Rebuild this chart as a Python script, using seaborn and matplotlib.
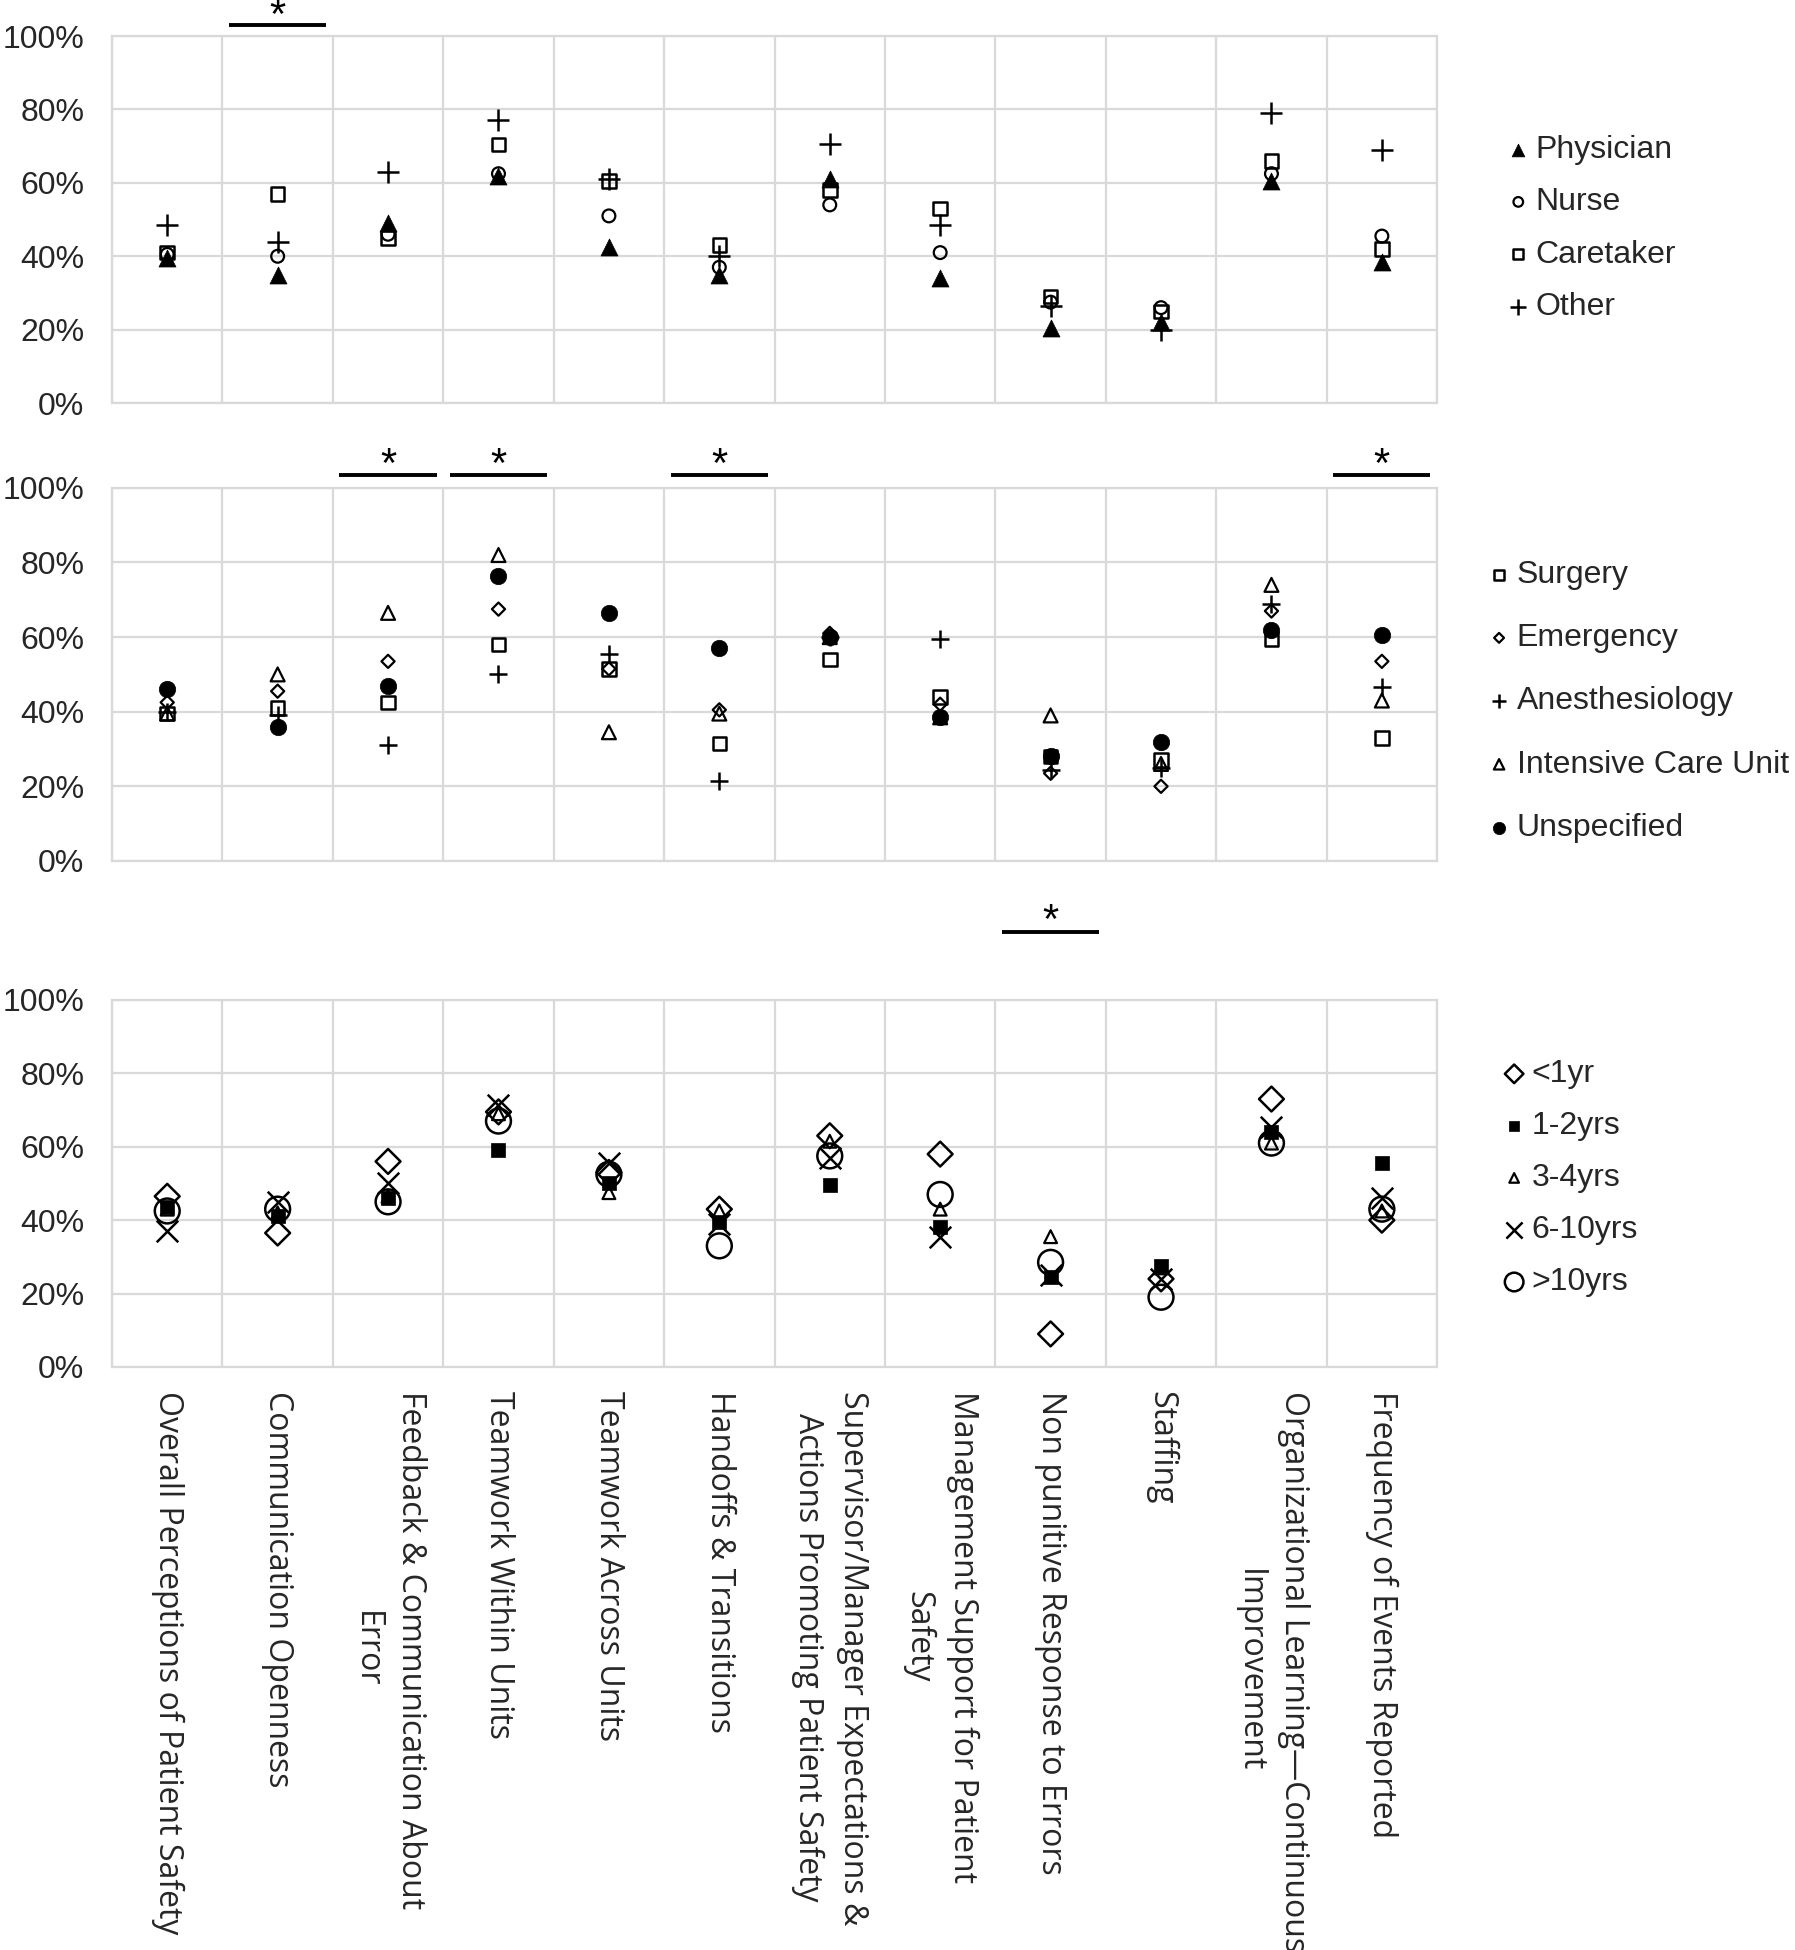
import numpy as np
import pandas as pd
import matplotlib
matplotlib.use('Agg')
import matplotlib.pyplot as plt
import seaborn as sns
from matplotlib.ticker import PercentFormatter

dimensions = ['Overall Perceptions of Patient Safety',
              'Communication Openness',
              'Feedback & Communication About\nError',
              'Teamwork Within Units',
              'Teamwork Across Units',
              'Handoffs & Transitions',
              'Supervisor/Manager Expectations &\nActions Promoting Patient Safety',
              'Management Support for Patient\nSafety',
              'Non punitive Response to Errors',
              'Staffing',
              'Organizational Learning\u2014Continuous\nImprovement',
              'Frequency of Events Reported']

# panel 1: by role
physician = [39.5, 35, 49, 62, 42.5, 35, 61, 34, 20.5, 22, 60.5, 38.5]
nurse = [40.5, 40, 46, 62.5, 51, 37, 54, 41, 27.5, 26, 62.5, 45.5]
caretaker = [41, 57, 45, 70.5, 60.5, 43, 58, 53, 29, 25, 66, 42]
other_role = [48.5, 44, 63, 77, 61, 40, 70.5, 48.5, 26.5, 20, 79, 69]

# panel 2: by department
surgery = [39.5, 41, 42.5, 58, 51.5, 31.5, 54, 44, 28, 27, 59.5, 33]
emergency = [42.5, 45.5, 53.5, 67.5, 51.5, 40.5, 61, 42, 23.5, 20, 67, 53.5]
anesthesiology = [40, 39, 31, 50, 55.5, 21.5, 60, 59.5, 24.5, 25, 69, 46.5]
icu = [39.5, 50, 66.5, 82, 34.5, 39.5, 60, 38.5, 39, 26, 74, 43]
unspecified = [46, 36, 47, 76.5, 66.5, 57, 60, 38.5, 28, 32, 62, 60.5]

# panel 3: by years of experience
lt_1yr = [46.5, 36.5, 56, 69.5, 53, 43, 63, 58, 9, 24, 73, 40]
yrs_1_2 = [43.5, 41, 46, 59, 50, 39.5, 49.5, 38, 24.5, 27.5, 64, 55.5]
yrs_3_4 = [43, 42, 46.5, 69, 47.5, 42.5, 61.5, 43, 35.5, 27, 61, 42.5]
yrs_6_10 = [37, 45, 50, 71.5, 55.5, 39, 57, 35.5, 25, 24, 65.5, 46]
gt_10yrs = [42.5, 43, 45, 67, 52.5, 33, 57.5, 47, 28.5, 19, 61, 43]

# significant differences (index of dimension) per panel
sig1 = [1]
sig2 = [2, 3, 5, 11]
sig3 = [8]

panels = [
    {'Physician': physician, 'Nurse': nurse, 'Caretaker': caretaker, 'Other': other_role},
    {'Surgery': surgery, 'Emergency': emergency, 'Anesthesiology': anesthesiology,
     'Intensive Care Unit': icu, 'Unspecified': unspecified},
    {'<1yr': lt_1yr, '1-2yrs': yrs_1_2, '3-4yrs': yrs_3_4, '6-10yrs': yrs_6_10, '>10yrs': gt_10yrs},
]

# marker style: (marker, size, filled, linewidth)
styles = [
    {'Physician': ('^', 150, True, 0), 'Nurse': ('o', 85, False, 1.6),
     'Caretaker': ('s', 95, False, 1.8), 'Other': ('+', 230, False, 1.8)},
    {'Surgery': ('s', 95, False, 1.8), 'Emergency': ('D', 45, False, 1.6),
     'Anesthesiology': ('+', 180, False, 1.8), 'Intensive Care Unit': ('^', 100, False, 1.6),
     'Unspecified': ('o', 140, True, 0)},
    {'<1yr': ('D', 160, False, 1.8), '1-2yrs': ('s', 100, True, 0),
     '3-4yrs': ('^', 85, False, 1.6), '6-10yrs': ('x', 240, False, 1.8),
     '>10yrs': ('o', 320, False, 1.8)},
]
sigs = [sig1, sig2, sig3]
bar_y = [103, 103.5, 118.5]
star_y = [102.2, 103.0, 118.2]

sns.set_theme(style='white')
plt.rcParams['font.family'] = ['Liberation Sans', 'DejaVu Sans']

fig = plt.figure(figsize=(17.95, 19.5), dpi=100)
boxes = [[0.0624, 0.7933, 0.7382, 0.1882],
         [0.0624, 0.5585, 0.7382, 0.1913],
         [0.0624, 0.2990, 0.7382, 0.1882]]
leg_pos = [(0.8316, 0.939), (0.8209, 0.721), (0.8293, 0.465)]
leg_spacing = [0.70, 1.04, 0.69]
grid_col = '#d9d9d9'

for i in range(3):
    ax = fig.add_axes(boxes[i])
    rows = []
    for grp, vals in panels[i].items():
        for d, v in zip(dimensions, vals):
            rows.append({'dimension': d, 'group': grp, 'pct': v})
    df = pd.DataFrame(rows)

    for grp in panels[i]:
        m, s, filled, lw = styles[i][grp]
        sub = df[df['group'] == grp]
        if m in ['+', 'x']:
            sns.scatterplot(data=sub, x='dimension', y='pct', marker=m, s=s,
                            color='black', linewidth=lw, ax=ax, label=grp, zorder=3)
        elif filled:
            sns.scatterplot(data=sub, x='dimension', y='pct', marker=m, s=s,
                            color='black', edgecolor='black', linewidth=0.5, ax=ax,
                            label=grp, zorder=3)
        else:
            sns.scatterplot(data=sub, x='dimension', y='pct', marker=m, s=s,
                            facecolor='none', edgecolor='black', linewidth=lw, ax=ax,
                            label=grp, zorder=3)

    ax.set_xlim(-0.5, len(dimensions) - 0.5)
    ax.set_ylim(0, 100)
    ax.set_yticks(np.arange(0, 101, 20))
    ax.yaxis.set_major_formatter(PercentFormatter(decimals=0))
    ax.set_xticks(np.arange(-0.5, len(dimensions), 1), minor=True)
    ax.grid(which='minor', axis='x', color=grid_col, lw=1.6)
    ax.grid(which='major', axis='y', color=grid_col, lw=1.6)
    ax.grid(which='major', axis='x', visible=False)
    ax.tick_params(which='both', length=0)
    ax.tick_params(axis='y', labelsize=23, pad=20)
    for sp in ax.spines.values():
        sp.set_color(grid_col)
        sp.set_linewidth(1.6)
    ax.set_xlabel('')
    ax.set_ylabel('')

    ax.set_xticks(range(len(dimensions)))
    if i < 2:
        ax.set_xticklabels([])
    else:
        ax.set_xticklabels(dimensions, rotation=-90, rotation_mode='anchor',
                           ha='left', va='center', multialignment='center',
                           linespacing=1.45, fontsize=23,
                           family=['Open Sans', 'DejaVu Sans'])
        ax.tick_params(axis='x', pad=17)

    for k in sigs[i]:
        ax.plot([k - 0.44, k + 0.44], [bar_y[i], bar_y[i]], color='black', lw=2.8,
                clip_on=False, solid_capstyle='butt')
        ax.text(k, star_y[i], '*', ha='center', va='baseline', fontsize=30,
                color='black')

    ax.legend(loc='upper left', bbox_to_anchor=leg_pos[i],
              bbox_transform=fig.transFigure, frameon=False, fontsize=23,
              handlelength=0.6, handletextpad=0.25, borderpad=0,
              labelspacing=leg_spacing[i], markerscale=0.75)

fig.savefig('out.png', dpi=100)
